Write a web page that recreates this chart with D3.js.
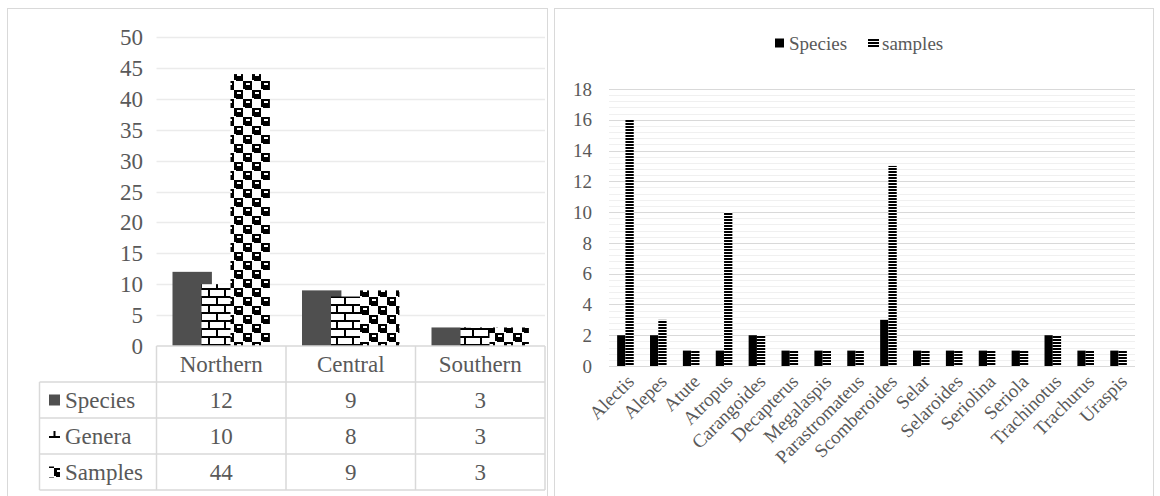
<!DOCTYPE html>
<html>
<head>
<meta charset="utf-8">
<script src="https://cdn.jsdelivr.net/npm/d3@7"></script>
<style>
  body { margin: 0; background: #fff; }
  svg text { fill: #595959; }
</style>
</head>
<body>
<svg id="chart" width="1160" height="496" font-family="'Liberation Serif', 'DejaVu Serif', serif"></svg>
<script>
// Left chart data: counts per region
const regions = ["Northern", "Central", "Southern"];
const seriesNames = ["Species", "Genera", "Samples"];
const regionSpecies = [12, 9, 3];
const regionGenera = [10, 8, 3];
const regionSamples = [44, 9, 3];
const leftTicks = [0, 5, 10, 15, 20, 25, 30, 35, 40, 45, 50];

// Right chart data: counts per genus
const genera = ["Alectis", "Alepes", "Atute", "Atropus", "Carangoides", "Decapterus",
  "Megalaspis", "Parastromateus", "Scomberoides", "Selar", "Selaroides", "Seriolina",
  "Seriola", "Trachinotus", "Trachurus", "Uraspis"];
const genusSpecies = [2, 2, 1, 1, 2, 1, 1, 1, 3, 1, 1, 1, 1, 2, 1, 1];
const genusSamples = [16, 3, 1, 10, 2, 1, 1, 1, 13, 1, 1, 1, 1, 2, 1, 1];
const rightTicks = [0, 2, 4, 6, 8, 10, 12, 14, 16, 18];

const svg = d3.select("#chart");
const gridColor = "#d9d9d9";

// Fill patterns
const defs = svg.append("defs");

// brick pattern for Genera
const brick = defs.append("pattern").attr("id", "brick")
  .attr("patternUnits", "userSpaceOnUse").attr("width", 16).attr("height", 16);
brick.append("rect").attr("width", 16).attr("height", 16).attr("fill", "#fff");
brick.append("rect").attr("x", 0).attr("y", 0).attr("width", 16).attr("height", 2).attr("fill", "#000");
brick.append("rect").attr("x", 0).attr("y", 8).attr("width", 16).attr("height", 2).attr("fill", "#000");
brick.append("rect").attr("x", 0).attr("y", 2).attr("width", 2).attr("height", 6).attr("fill", "#000");
brick.append("rect").attr("x", 8).attr("y", 10).attr("width", 2).attr("height", 6).attr("fill", "#000");

// checker pattern for Samples (notched blobs)
const checker = defs.append("pattern").attr("id", "checker")
  .attr("patternUnits", "userSpaceOnUse").attr("width", 18).attr("height", 18);
checker.append("rect").attr("width", 18).attr("height", 18).attr("fill", "#fff");
checker.append("rect").attr("x", 0).attr("y", 0).attr("width", 9).attr("height", 9).attr("fill", "#000");
checker.append("rect").attr("x", 9).attr("y", 9).attr("width", 9).attr("height", 9).attr("fill", "#000");
checker.append("rect").attr("x", 3).attr("y", 2).attr("width", 4).attr("height", 2).attr("fill", "#fff");
checker.append("rect").attr("x", 12).attr("y", 11).attr("width", 4).attr("height", 2).attr("fill", "#fff");
checker.append("rect").attr("x", 0).attr("y", 8).attr("width", 2).attr("height", 1).attr("fill", "#fff");
checker.append("rect").attr("x", 9).attr("y", 17).attr("width", 2).attr("height", 1).attr("fill", "#fff");

// horizontal stripes for right chart samples
const stripes = defs.append("pattern").attr("id", "stripes")
  .attr("patternUnits", "userSpaceOnUse").attr("width", 4).attr("height", 3);
stripes.append("rect").attr("width", 4).attr("height", 3).attr("fill", "#fff");
stripes.append("rect").attr("width", 4).attr("height", 2).attr("fill", "#000");

const leftFills = ["#4f4f4f", "url(#brick)", "url(#checker)"];

// ---------- Left chart ----------
svg.append("rect").attr("x", 7.5).attr("y", 8.5).attr("width", 540).attr("height", 500)
  .attr("fill", "none").attr("stroke", gridColor);

const xL = d3.scaleBand().domain(regions).range([156.5, 545]);
const yL = d3.scaleLinear().domain([0, 50]).range([346, 37]);

svg.append("g").selectAll("line").data(leftTicks.slice(1)).join("line")
  .attr("x1", 156.5).attr("x2", 545)
  .attr("y1", (d) => Math.round(yL(d)) + 0.5).attr("y2", (d) => Math.round(yL(d)) + 0.5)
  .attr("stroke", "#ebebeb").attr("stroke-width", 1.5);

svg.append("g").selectAll("text").data(leftTicks).join("text")
  .attr("x", 143).attr("y", (d) => yL(d)).attr("dy", "0.35em")
  .attr("text-anchor", "end").attr("font-size", 23).text((d) => d);

const leftValues = [regionSpecies, regionGenera, regionSamples];
const barW = 39.4, barStep = 29, outer = 16;
leftValues.forEach((vals, si) => {
  svg.append("g").selectAll("rect").data(regions).join("rect")
    .attr("x", (d) => xL(d) + outer + si * barStep)
    .attr("width", barW)
    .attr("y", (d, i) => yL(vals[i]))
    .attr("height", (d, i) => yL(0) - yL(vals[i]))
    .attr("fill", leftFills[si]);
});

// data table under the left chart
const rowTop = [346, 382, 418, 454, 490];
const tableLeft = 39.5;
const table = svg.append("g").attr("stroke", gridColor).attr("stroke-width", 1.5);
table.append("line").attr("x1", 156.5).attr("x2", 545).attr("y1", 346).attr("y2", 346);
rowTop.slice(1).forEach((y) => {
  table.append("line").attr("x1", tableLeft).attr("x2", 545).attr("y1", y).attr("y2", y);
});
table.append("line").attr("x1", tableLeft).attr("x2", tableLeft).attr("y1", 382).attr("y2", 490);
[156.5, 286, 415.5, 545].forEach((x) => {
  table.append("line").attr("x1", x).attr("x2", x).attr("y1", 346).attr("y2", 490);
});

svg.append("g").selectAll("text").data(regions).join("text")
  .attr("x", (d) => xL(d) + xL.bandwidth() / 2).attr("y", 364).attr("dy", "0.35em")
  .attr("text-anchor", "middle").attr("font-size", 23).text((d) => d);

leftValues.forEach((vals, si) => {
  const cy = (rowTop[si + 1] + rowTop[si + 2]) / 2;
  if (si === 1) {
    // genera key: small piece of the brick pattern
    svg.append("rect").attr("x", 49).attr("y", cy).attr("width", 11).attr("height", 2).attr("fill", "#000");
    svg.append("rect").attr("x", 53.5).attr("y", cy - 5).attr("width", 2).attr("height", 5).attr("fill", "#000");
  } else {
    svg.append("rect").attr("x", 49).attr("y", cy - 5.5).attr("width", 11).attr("height", 11)
      .attr("fill", leftFills[si]);
  }
  svg.append("text").attr("x", 65).attr("y", cy).attr("dy", "0.35em")
    .attr("font-size", 23).text(seriesNames[si]);
  svg.append("g").selectAll("text").data(regions).join("text")
    .attr("x", (d) => xL(d) + xL.bandwidth() / 2).attr("y", cy).attr("dy", "0.35em")
    .attr("text-anchor", "middle").attr("font-size", 23)
    .text((d, i) => vals[i]);
});

// ---------- Right chart ----------
svg.append("rect").attr("x", 554.5).attr("y", 8.5).attr("width", 599).attr("height", 500)
  .attr("fill", "none").attr("stroke", gridColor);

const xR = d3.scaleBand().domain(genera).range([609, 1135]);
const yR = d3.scaleLinear().domain([0, 18]).range([366, 89]);

// minor gridlines every 0.4
const minorTicks = d3.range(0, 18.01, 0.4).filter((v) => Math.abs(v / 2 - Math.round(v / 2)) > 0.01);
svg.append("g").selectAll("line").data(minorTicks).join("line")
  .attr("x1", 609).attr("x2", 1135)
  .attr("y1", (d) => Math.round(yR(d)) + 0.5).attr("y2", (d) => Math.round(yR(d)) + 0.5)
  .attr("stroke", "#f0f0f0");
svg.append("g").selectAll("line").data(rightTicks).join("line")
  .attr("x1", 609).attr("x2", 1135)
  .attr("y1", (d) => Math.round(yR(d)) + 0.5).attr("y2", (d) => Math.round(yR(d)) + 0.5)
  .attr("stroke", gridColor).attr("stroke-width", 1.2);

svg.append("g").selectAll("text").data(rightTicks).join("text")
  .attr("x", 592).attr("y", (d) => yR(d)).attr("dy", "0.35em")
  .attr("text-anchor", "end").attr("font-size", 19).text((d) => d);

const rBarW = 8.3;
svg.append("g").selectAll("rect").data(genera).join("rect")
  .attr("x", (d) => xR(d) + xR.bandwidth() / 2 - rBarW)
  .attr("width", rBarW)
  .attr("y", (d, i) => yR(genusSpecies[i]))
  .attr("height", (d, i) => yR(0) - yR(genusSpecies[i]))
  .attr("fill", "#000");
svg.append("g").selectAll("rect").data(genera).join("rect")
  .attr("x", (d) => xR(d) + xR.bandwidth() / 2)
  .attr("width", rBarW)
  .attr("y", (d, i) => yR(genusSamples[i]))
  .attr("height", (d, i) => yR(0) - yR(genusSamples[i]))
  .attr("fill", "url(#stripes)");

// rotated category labels
svg.append("g").selectAll("text").data(genera).join("text")
  .attr("transform", (d) => `translate(${xR(d) + xR.bandwidth() / 2 + 5},378) rotate(-45)`)
  .attr("text-anchor", "end").attr("dy", "0.35em").attr("font-size", 19)
  .text((d) => d);

// legend
svg.append("rect").attr("x", 775).attr("y", 38.5).attr("width", 9).attr("height", 9).attr("fill", "#000");
svg.append("text").attr("x", 789).attr("y", 43).attr("dy", "0.35em").attr("font-size", 19).text("Species");
svg.append("rect").attr("x", 868).attr("y", 38).attr("width", 11).attr("height", 10).attr("fill", "url(#stripes)");
svg.append("text").attr("x", 882).attr("y", 43).attr("dy", "0.35em").attr("font-size", 19).text("samples");
</script>
</body>
</html>
